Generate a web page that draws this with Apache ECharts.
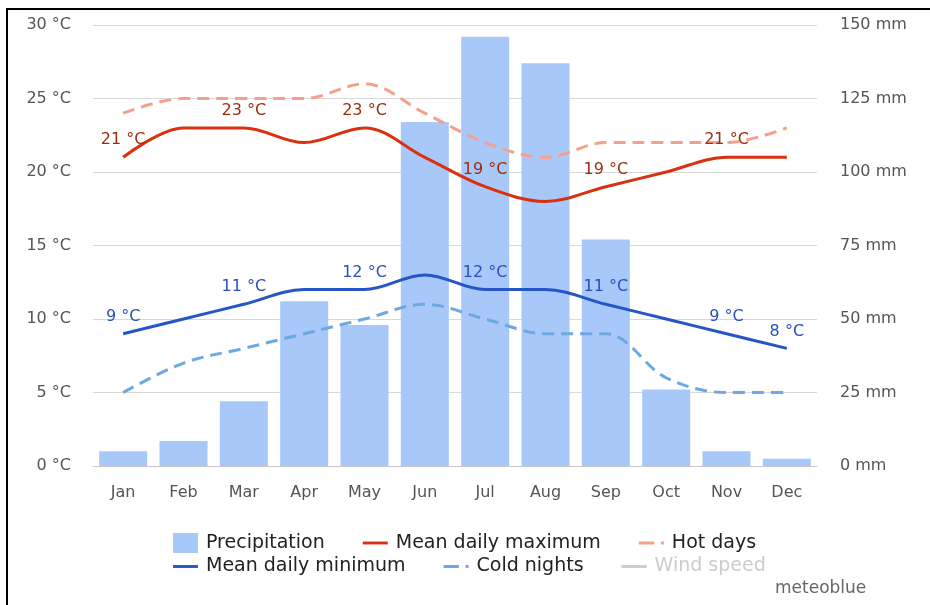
<!DOCTYPE html>
<html>
<head>
<meta charset="utf-8">
<script src="https://cdn.jsdelivr.net/npm/echarts@6/dist/echarts.min.js"></script>
<style>
  html, body { margin: 0; padding: 0; overflow: hidden; background: #fff; }
  #chart { width: 930px; height: 605px; }
  /* black frame round the chart, right and bottom edges fall outside the window */
  #frame { position: absolute; left: 6px; top: 8px; width: 940px; height: 620px;
           border: 2px solid #000; pointer-events: none; }
</style>
</head>
<body>
<div id="chart"></div>
<div id="frame"></div>
<script>
  const months = ['Jan', 'Feb', 'Mar', 'Apr', 'May', 'Jun', 'Jul', 'Aug', 'Sep', 'Oct', 'Nov', 'Dec'];
  const precipitation = [5, 8.5, 22, 56, 48, 117, 146, 137, 77, 26, 5, 2.5];
  const meanMax = [21, 23, 23, 22, 23, 21, 19, 18, 19, 20, 21, 21];
  const hotDays = [24, 25, 25, 25, 26, 24, 22, 21, 22, 22, 22, 23];
  const meanMin = [9, 10, 11, 12, 12, 13, 12, 12, 11, 10, 9, 8];
  const coldNights = [5, 7, 8, 9, 10, 11, 10, 9, 9, 6, 5, 5];
  // which points carry a value label
  const maxLabelIdx = [0, 2, 4, 6, 8, 10];
  const minLabelIdx = [0, 2, 4, 6, 8, 10, 11];

  const FONT = 'DejaVu Sans';
  // legend icons: plain stroke, and dash + dot for the dashed series
  const ICON_LINE = 'path://M0,0H26V3H0Z';
  const ICON_DASH = 'path://M0,0H16V3H0Z M23,0H26V3H23Z';

  function labelled(values, idx, color) {
    return values.map((v, i) => ({
      value: v,
      label: {
        show: idx.indexOf(i) >= 0,
        position: 'top',
        distance: 9,
        formatter: '{c} °C',
        color: color,
        fontFamily: FONT,
        fontSize: 16
      }
    }));
  }

  const chart = echarts.init(document.getElementById('chart'));
  chart.setOption({
    animation: false,
    grid: { left: 93, right: 113, top: 25, bottom: 139 },
    xAxis: {
      type: 'category',
      data: months,
      axisLine: { lineStyle: { color: '#c8c8c8', width: 1 } },
      axisTick: { alignWithLabel: true, length: 7, lineStyle: { color: '#c8c8c8' } },
      axisLabel: { color: '#555', fontFamily: FONT, fontSize: 16, margin: 19 }
    },
    yAxis: [
      {
        type: 'value', min: 0, max: 30, interval: 5,
        axisLabel: { formatter: '{value} °C', color: '#555', fontFamily: FONT, fontSize: 16, margin: 22 },
        splitLine: { lineStyle: { color: '#d8d8d8' } },
        axisLine: { show: false }, axisTick: { show: false }
      },
      {
        type: 'value', min: 0, max: 150, interval: 25,
        axisLabel: { formatter: '{value} mm', color: '#555', fontFamily: FONT, fontSize: 16, margin: 23 },
        splitLine: { show: false },
        axisLine: { show: false }, axisTick: { show: false }
      }
    ],
    legend: [
      {
        left: 168, top: 528, itemGap: 38, itemWidth: 25, itemHeight: 20,
        textStyle: { fontFamily: FONT, fontSize: 19, color: '#222', padding: [0, 0, 0, 3] },
        data: [
          { name: 'Precipitation', icon: 'rect' },
          { name: 'Mean daily maximum', icon: ICON_LINE },
          { name: 'Hot days', icon: ICON_DASH }
        ]
      },
      {
        left: 168, top: 552, itemGap: 38, itemWidth: 25, itemHeight: 20,
        textStyle: { fontFamily: FONT, fontSize: 19, color: '#222', padding: [0, 0, 0, 3] },
        inactiveColor: '#cccccc',
        selected: { 'Wind speed': false },
        data: [
          { name: 'Mean daily minimum', icon: ICON_LINE },
          { name: 'Cold nights', icon: ICON_DASH },
          { name: 'Wind speed', icon: ICON_LINE }
        ]
      }
    ],
    graphic: [
      { type: 'text', left: 775, top: 580,
        style: { text: 'meteoblue', fill: '#666', font: '17px "DejaVu Sans"' } }
    ],
    series: [
      {
        name: 'Precipitation', type: 'bar', yAxisIndex: 1,
        data: precipitation, barWidth: 48,
        itemStyle: { color: '#a9c8fa' }, z: 1
      },
      {
        name: 'Mean daily maximum', type: 'line', data: labelled(meanMax, maxLabelIdx, '#9e2c0c'),
        smooth: 0.35, symbol: 'circle', symbolSize: 0,
        lineStyle: { color: '#d9310f', width: 3 }, itemStyle: { color: '#d9310f' }, z: 4
      },
      {
        name: 'Hot days', type: 'line', data: hotDays,
        smooth: 0.35, symbol: 'none',
        lineStyle: { color: '#f5a08e', width: 3, type: [12, 7] }, itemStyle: { color: '#f5a08e' }, z: 3
      },
      {
        name: 'Mean daily minimum', type: 'line', data: labelled(meanMin, minLabelIdx, '#2a4fbc'),
        smooth: 0.35, symbol: 'circle', symbolSize: 0,
        lineStyle: { color: '#2456c6', width: 3 }, itemStyle: { color: '#2456c6' }, z: 4
      },
      {
        name: 'Cold nights', type: 'line', data: coldNights,
        smooth: 0.35, symbol: 'none',
        lineStyle: { color: '#6ea8e2', width: 3, type: [12, 7] }, itemStyle: { color: '#6ea8e2' }, z: 3
      },
      {
        name: 'Wind speed', type: 'line', data: [],
        symbol: 'none', lineStyle: { color: '#cccccc', width: 3 }, itemStyle: { color: '#cccccc' }
      }
    ]
  });
</script>
</body>
</html>
